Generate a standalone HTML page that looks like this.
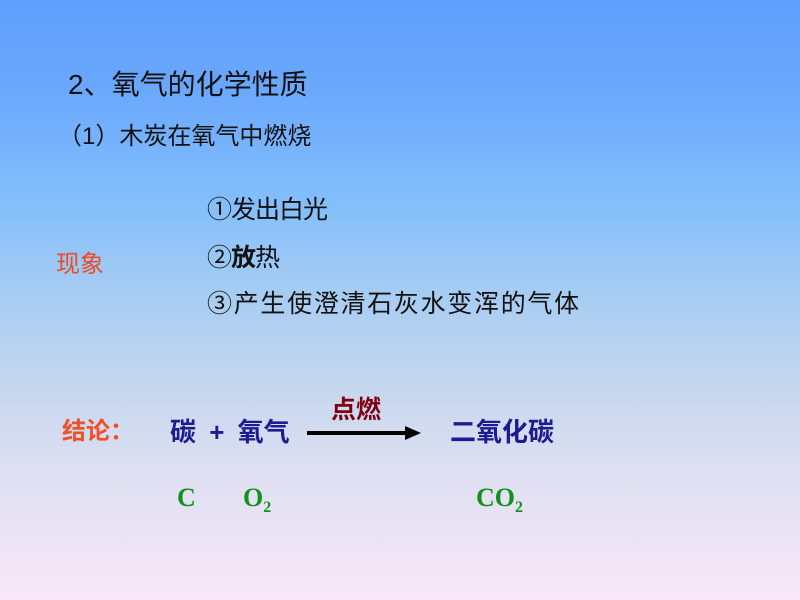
<!DOCTYPE html>
<html><head><meta charset="utf-8"><style>
html,body{margin:0;padding:0}
body{width:800px;height:600px;position:relative;overflow:hidden;
background:linear-gradient(to bottom,#609ffd 0%,#6aa8fd 15%,#85c0fb 35%,#a9cdf2 50%,#c7d7ee 65%,#e0e0f2 80%,#f8e8f8 100%);
font-family:"Liberation Sans","Noto Sans CJK SC",sans-serif}
.t{position:absolute;white-space:nowrap;line-height:1}
.tm{font-family:"Liberation Serif",serif;font-weight:bold;color:#13921a;font-size:26px}
sub{font-size:16px;vertical-align:-6px}
</style></head><body>
<div class="t" style="left:68px;top:71px;font-size:28px;color:#111">2、氧气的化学性质</div>
<div class="t" style="left:58px;top:125px;font-size:24px;color:#111">（1）木炭在氧气中燃烧</div>
<div class="t" style="left:207px;top:198px;font-size:25px;color:#111;letter-spacing:-1px">①发出白光</div>
<div class="t" style="left:207px;top:246px;font-size:25px;color:#111;letter-spacing:-1px">②<b>放</b>热</div>
<div class="t" style="left:207px;top:292px;font-size:25px;color:#111;letter-spacing:1.7px">③产生使澄清石灰水变浑的气体</div>
<div class="t" style="left:56px;top:253px;font-size:24px;color:#f04a22">现象</div>
<div class="t" style="left:62px;top:420px;font-size:24px;color:#f05028;font-weight:bold">结论：</div>
<div class="t" style="left:170px;top:419px;font-size:26px;color:#1c1c90;font-weight:bold;word-spacing:6px">碳 + 氧气</div>
<div class="t" style="left:331px;top:398px;font-size:25px;color:#800010;font-weight:bold">点燃</div>
<div style="position:absolute;left:307px;top:431px;width:100px;height:4px;background:#000"></div>
<div style="position:absolute;left:405px;top:426px;width:0;height:0;border-top:7px solid transparent;border-bottom:7px solid transparent;border-left:16px solid #000"></div>
<div class="t" style="left:450px;top:419px;font-size:26px;color:#1c1c90;font-weight:bold">二氧化碳</div>
<div class="t tm" style="left:177px;top:485px">C</div>
<div class="t tm" style="left:243px;top:485px">O<sub>2</sub></div>
<div class="t tm" style="left:476px;top:485px">CO<sub>2</sub></div>
</body></html>
